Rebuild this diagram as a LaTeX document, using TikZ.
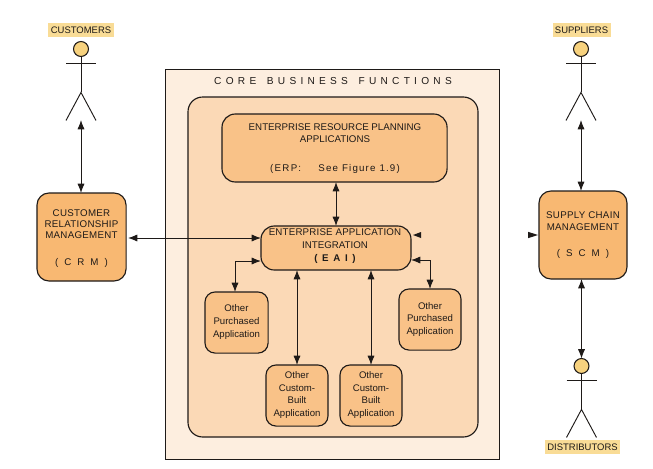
\documentclass[tikz,border=0pt]{standalone}
\usepackage{fontspec}
\setmainfont{Liberation Sans}
\usetikzlibrary{arrows.meta,calc}
\definecolor{outerc}{HTML}{FDEEDF}
\definecolor{innerc}{HTML}{FBD9B6}
\definecolor{boxc}{HTML}{F9C288}
\definecolor{crmc}{HTML}{F8B872}
\definecolor{labelc}{HTML}{F9DC96}
\definecolor{headc}{HTML}{F7D27E}
\definecolor{inkc}{HTML}{1E1A18}
\tikzset{
  x=0.75pt,y=-0.75pt,
  every node/.style={font=\fontsize{7.3}{9.2}\selectfont,text=inkc,align=center,inner sep=0pt,outer sep=0pt},
  panel/.style={draw=inkc,line width=0.85pt,rounded corners=9pt,anchor=north west},
  mainbox/.style={panel,fill=crmc,rounded corners=9pt},
  eaibox/.style={panel,fill=boxc,rounded corners=10pt},
  appbox/.style={panel,fill=boxc,rounded corners=7.5pt},
  apptext/.style={font=\fontsize{7.2}{9.4}\selectfont},
  tag/.style={fill=labelc,minimum height=10.5pt,font=\fontsize{7.1}{8}\selectfont},
  link/.style={draw=inkc,line width=0.75pt,{Latex[length=7pt,width=5.4pt]}-{Latex[length=7pt,width=5.4pt]}},
  stub/.style={fill=inkc,draw=none},
  limb/.style={draw=inkc,line width=0.7pt},
  headdot/.style={circle,draw=inkc,line width=0.8pt,fill=headc,minimum size=11.2pt},
}
\newcommand{\spaced}[1]{\addfontfeatures{LetterSpace=#1}}
\newcommand{\gap}[1]{\hspace{#1}}
\begin{document}
\begin{tikzpicture}
\useasboundingbox (0,0) rectangle (653,468);
\fill[white] (0,0) rectangle (653,468);
% containers
\node[draw=inkc,line width=0.7pt,fill=outerc,anchor=north west,minimum width=250.5pt,minimum height=292.5pt] (core) at (165,69) {};
\node[panel,fill=innerc,minimum width=217.5pt,minimum height=255pt,rounded corners=11pt] (inner) at (188,97) {};
\node[font=\fontsize{7.6}{9}\selectfont] (coretitle) at (333,81) {\spaced{42}CORE\gap{8pt}BUSINESS\gap{8pt}FUNCTIONS};
% application boxes
\node[eaibox,minimum width=168.8pt,minimum height=51pt] (erp) at (222,114) {};
\node (erptext) at (335,148.5) {ENTERPRISE RESOURCE PLANNING\\APPLICATIONS\\[12pt]{\spaced{12}(E\gap{1pt}R\gap{1pt}P:\gap{13pt}See\gap{3pt}Figure\gap{3pt}1.9)}};
\node[eaibox,minimum width=112.5pt,minimum height=33pt] (eai) at (261,226) {};
\node (eaitext) at (335,246.5) {{\spaced{2}ENTERPRISE APPLICATION}\\INTEGRATION\\[1pt]{\bfseries\spaced{20}( E A I )}};
\node[mainbox,minimum width=66.8pt,minimum height=66pt] (crm) at (37,193) {};
\node[font=\fontsize{7.3}{8.6}\selectfont] (crmtext) at (81.5,238.5) {{\spaced{3}CUSTOMER}\\{\spaced{3}RELATIONSHIP}\\{\spaced{3}MANAGEMENT}\\[11.5pt]{(\gap{4.5pt}C\gap{4.5pt}R\gap{4.5pt}M\gap{4.5pt})}};
\node[mainbox,minimum width=66pt,minimum height=66pt] (scm) at (539,191) {};
\node (scmtext) at (583,235) {{\spaced{3}SUPPLY CHAIN}\\{\spaced{3}MANAGEMENT}\\[10.5pt]{(\gap{4.5pt}S\gap{4.5pt}C\gap{4.5pt}M\gap{4.5pt})}};
\node[appbox,minimum width=47.3pt,minimum height=45.8pt] (oa) at (205,292) {};
\node[apptext] (oatext) at (236.5,322) {Other\\Purchased\\Application};
\node[appbox,minimum width=46.5pt,minimum height=45.8pt] (ob) at (399,289) {};
\node[apptext] (obtext) at (430,319.5) {Other\\Purchased\\Application};
\node[appbox,minimum width=46.5pt,minimum height=45.8pt] (oc) at (266,365) {};
\node[apptext] (octext) at (297,395) {Other\\Custom-\\Built\\Application};
\node[appbox,minimum width=46.5pt,minimum height=45.8pt] (od) at (340,365) {};
\node[apptext] (odtext) at (371,395) {Other\\Custom-\\Built\\Application};
% labels
\node[tag,minimum width=49.5pt] (custlabel) at (81,30) {CUSTOMERS};
\node[tag,minimum width=43.5pt] (supplabel) at (581.5,30) {SUPPLIERS};
\node[tag,minimum width=56.5pt] (distlabel) at (582.5,447) {DISTRIBUTORS};
% stick figures
\foreach \nm/\cx/\cy in {cust/81/49,supp/581/49,dist/581.5/366}{
  \node[headdot] (\nm head) at (\cx,\cy) {};
  \coordinate (\nm feet) at (\cx,\cy+71);
  \draw[limb] (\nm head.south) -- ++(0,36) coordinate (\nm hip);
  \draw[limb] ($(\nm head)+(-15,14)$) -- ($(\nm head)+(15,14)$);
  \draw[limb] ($(\nm hip)+(-15,28)$) -- (\nm hip) -- ($(\nm hip)+(15,28)$);
}
% connectors
\draw[link] (custfeet) -- (custfeet |- crm.north);
\draw[link] (suppfeet) -- (suppfeet |- scm.north);
\draw[link] (disthead.north) -- (disthead.north |- scm.south);
\coordinate (crmport) at (128,238);
\coordinate (eaiport) at (261,238);
\draw[link] (crmport) -- (eaiport);
\draw[link] (erp.south -| eai.north) -- (eai.north);
\coordinate (eailow) at (261,261);
\coordinate (oaknee) at (235,261);
\draw[link] (eailow) -- (oaknee) -- (oaknee |- oa.north);
\coordinate (eairight) at (411,260);
\coordinate (obknee) at (430,260);
\draw[link] (eairight) -- (obknee) -- (obknee |- ob.north);
\draw[link] (oc.north) -- (oc.north |- eai.south);
\draw[link] (od.north) -- (od.north |- eai.south);
% detached arrowheads
\coordinate (stubl) at (413,235);
\coordinate (stubr) at (538,235);
\fill[stub] (stubl) -- ++(8,-3) -- ++(0,6) -- cycle;
\fill[stub] (stubr) -- ++(-10,-3.2) -- ++(0,6.4) -- cycle;
\end{tikzpicture}
\end{document}
